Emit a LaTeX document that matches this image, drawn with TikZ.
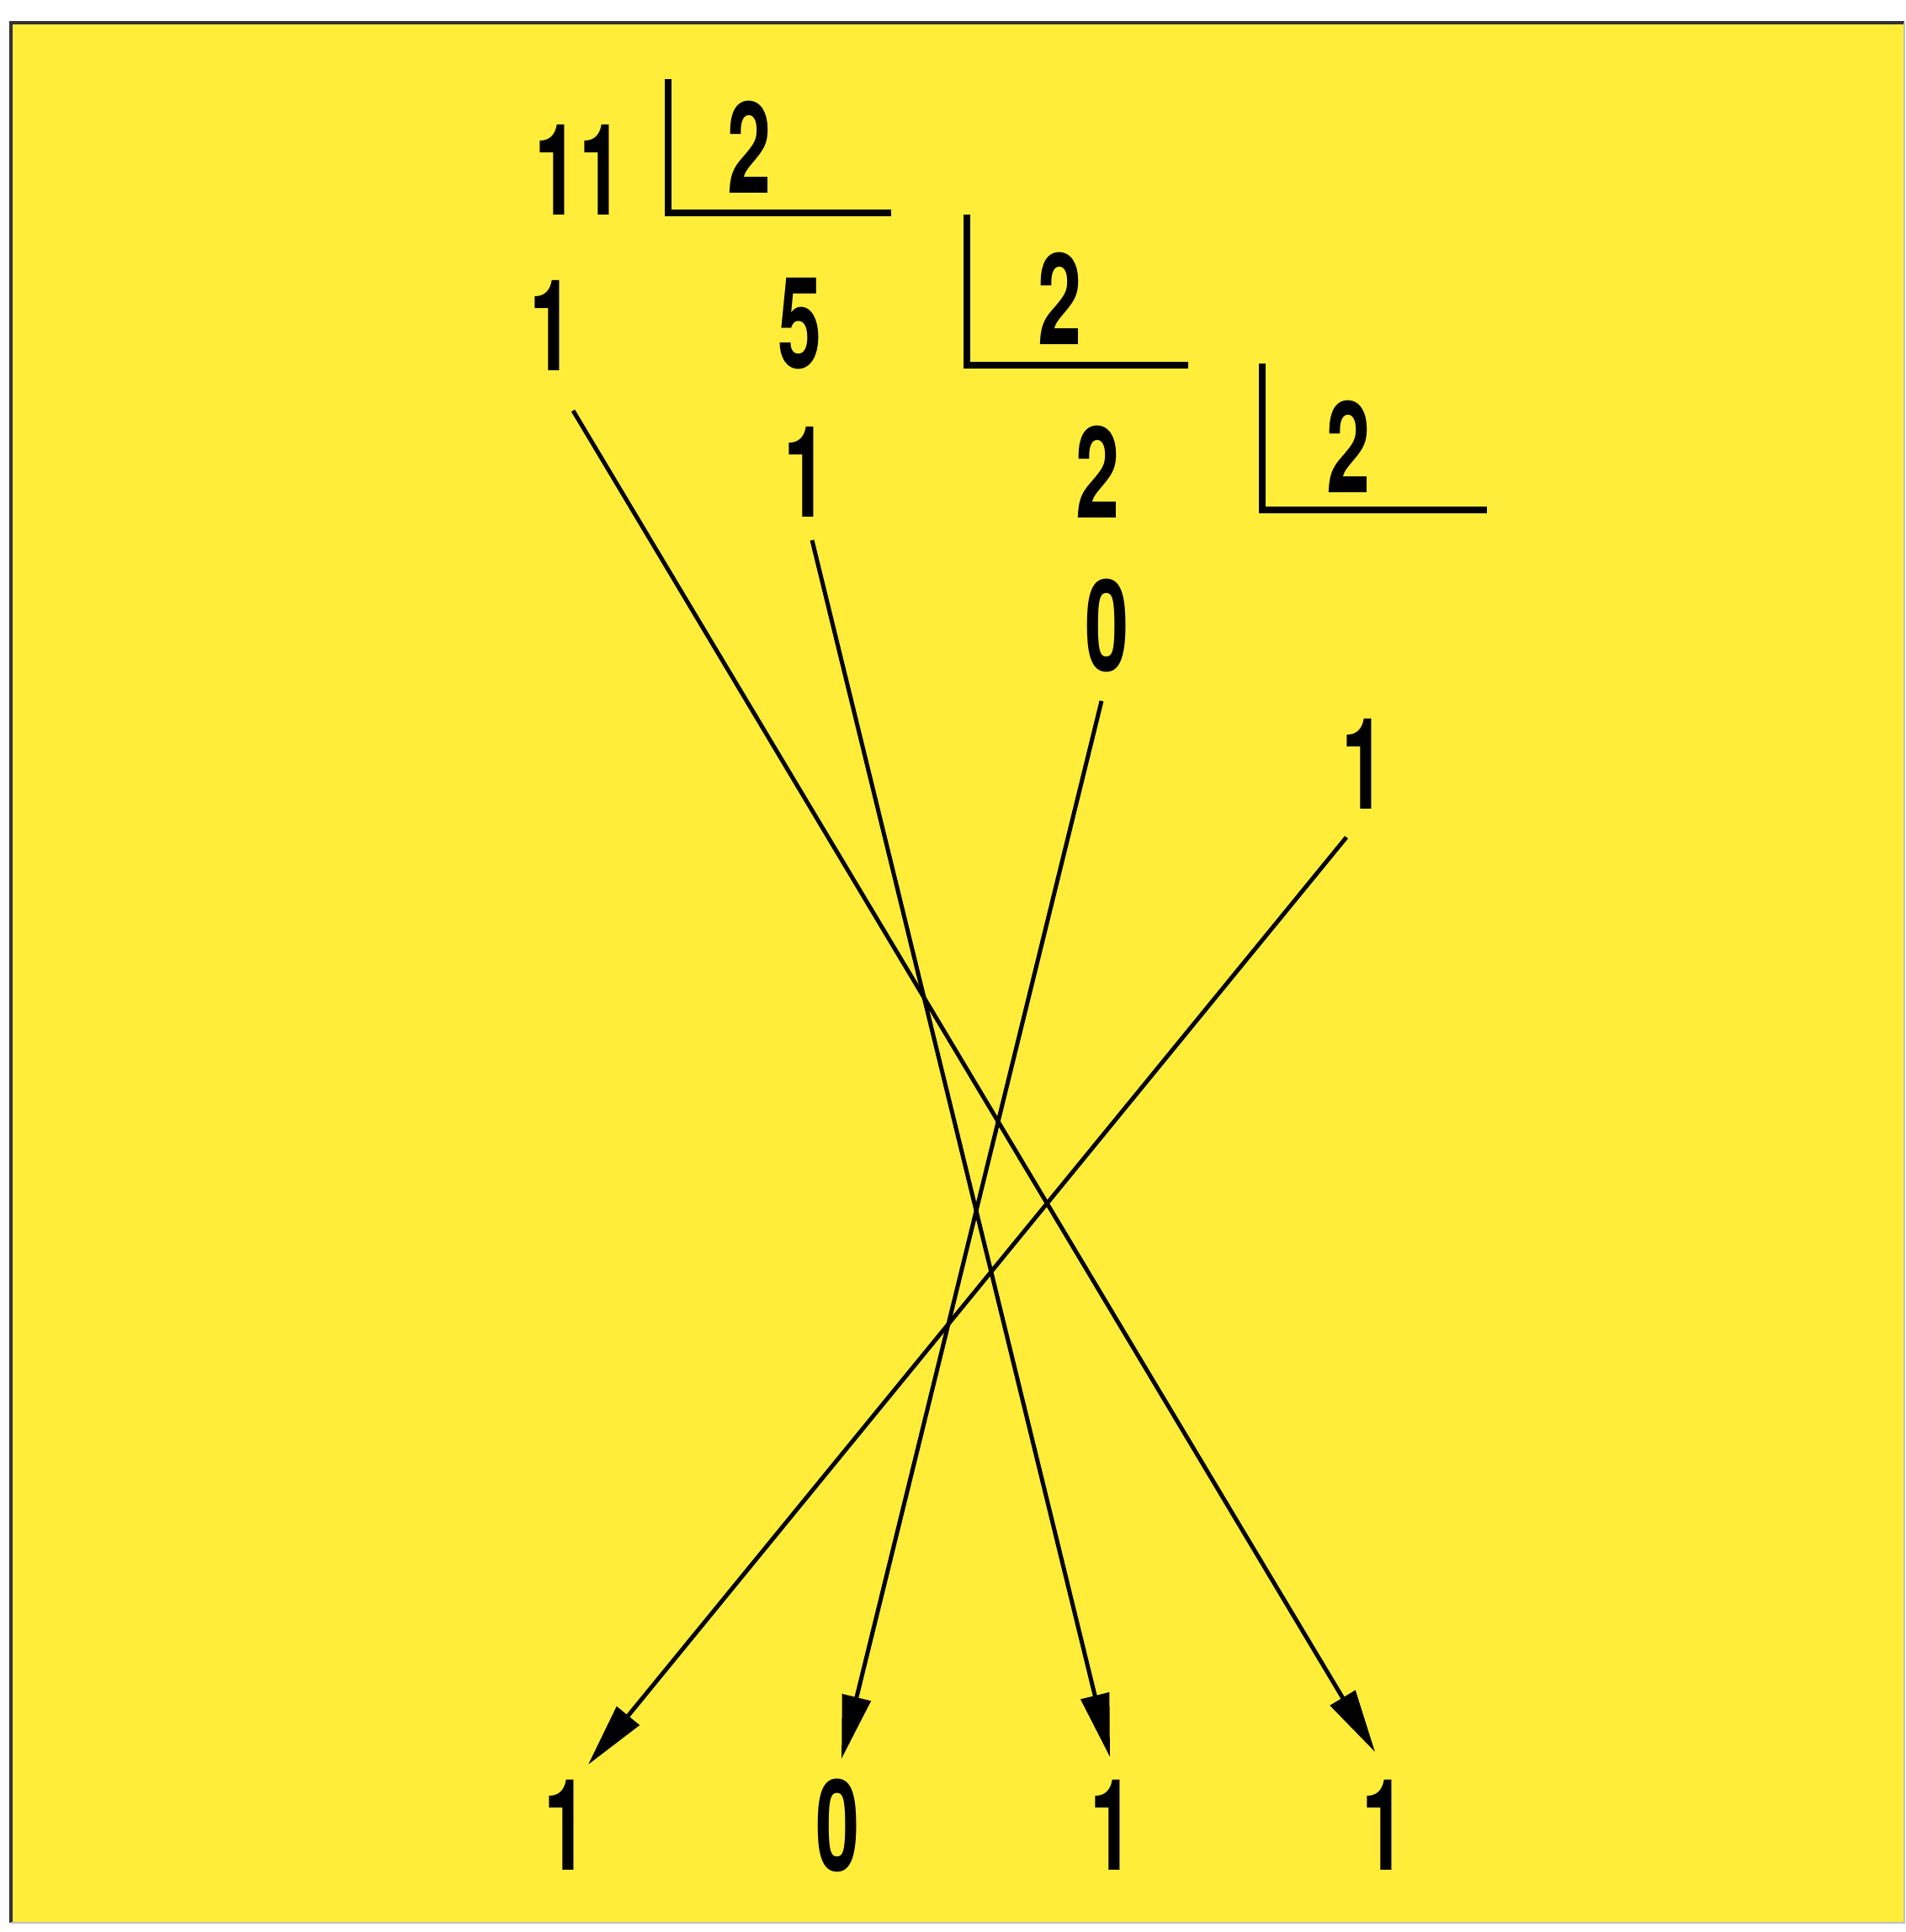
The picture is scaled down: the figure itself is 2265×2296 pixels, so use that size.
\documentclass[tikz,border=0pt]{standalone}
\usepackage{fontspec}
\usetikzlibrary{arrows.meta}
\newfontfamily\digitfont{TeX Gyre Heros}[FakeStretch=0.62]
\definecolor{bg}{RGB}{255,237,58}
\begin{document}
\begin{tikzpicture}[x=0.1mm,y=-0.1mm,
  dig/.style={font=\digitfont\bfseries\fontsize{43}{43}\selectfont, inner sep=0pt, anchor=center},
  arr/.style={line width=1.4pt, -{Triangle[length=7.5mm,width=3.4mm]}},
  brk/.style={line width=2.4pt}]
\useasboundingbox (0,0) rectangle (2265,2296);
\fill[white] (0,0) rectangle (2265,2296);
\fill[bg] (13,27) rectangle (2263,2285);
\draw[line width=1.4pt, black!80] (13,2285) -- (13,27) -- (2263,27);
\draw[line width=0.6pt, black!25] (2263,27) -- (2263,2285) -- (13,2285);

% division chain
\node[dig] (n11) at (688,202) {11};
\node[dig] (d1) at (891,175) {2};
\node[dig] (r1) at (656,387) {1};
\node[dig] (n5) at (951,385) {5};
\node[dig] (d2) at (1260,355) {2};
\node[dig] (r2) at (958,561) {1};
\node[dig] (n2) at (1305,561) {2};
\node[dig] (d3) at (1603,531) {2};
\node[dig] (r3) at (1316,743) {0};
\node[dig] (r4) at (1621,908) {1};

\draw[brk] (794,94) -- (794,253) -- (1059,253);
\draw[brk] (1149,255) -- (1149,434) -- (1412,434);
\draw[brk] (1500,432) -- (1500,606) -- (1767,606);

% result
\node[dig] (b1) at (673,2169) {1};
\node[dig] (b2) at (996,2169) {0};
\node[dig] (b3) at (1322,2169) {1};
\node[dig] (b4) at (1645,2169) {1};

\draw[arr] ([shift={(25,101)}]r1.center) -- ([shift={(-11,-87)}]b4.center);
\draw[arr] ([shift={(7,81)}]r2.center) -- ([shift={(-3,-81)}]b3.center);
\draw[arr] ([shift={(-7,90)}]r3.center) -- ([shift={(4,-79)}]b2.center);
\draw[arr] ([shift={(-21,87)}]r4.center) -- ([shift={(26,-72)}]b1.center);
\end{tikzpicture}
\end{document}
